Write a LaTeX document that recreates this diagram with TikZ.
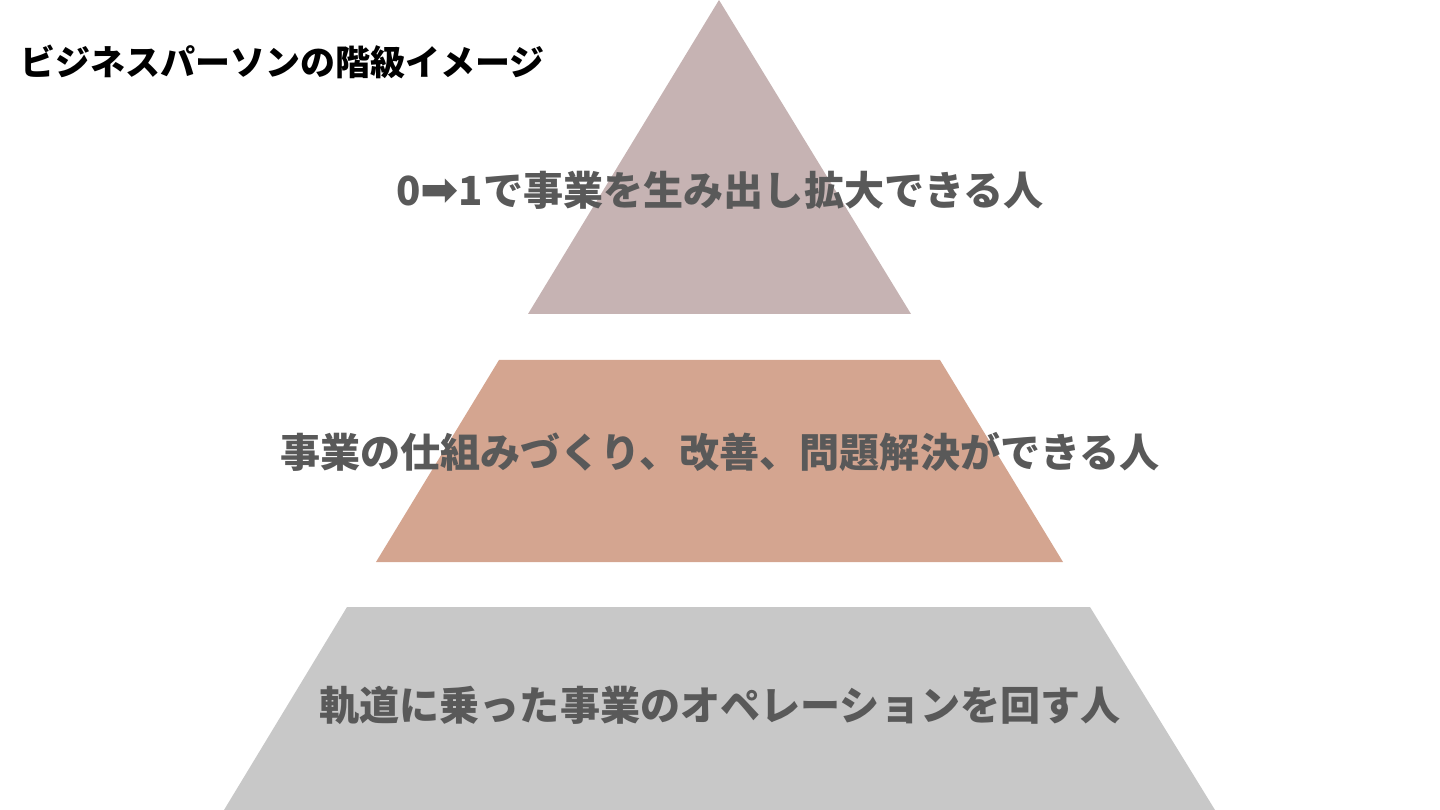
\documentclass[tikz,border=0pt]{standalone}
\usepackage{fontspec}
\newfontfamily\cjk{Noto Sans CJK JP}
\newfontfamily\sym{DejaVu Sans}
\definecolor{topc}{HTML}{C6B3B3}
\definecolor{midc}{HTML}{D4A590}
\definecolor{botc}{HTML}{C8C8C8}
\definecolor{txt}{HTML}{595959}
\begin{document}
\begin{tikzpicture}[x=0.01cm,y=-0.01cm,
  lvl/.style={font=\cjk\bfseries\fontsize{11.4pt}{13pt}\selectfont, text=txt, anchor=center, inner sep=0pt},
  ttl/.style={font=\cjk\bfseries\fontsize{9.95pt}{11pt}\selectfont, text=black, anchor=west, inner sep=0pt}]
\useasboundingbox (0,0) rectangle (1440,810);
\fill[topc] (719,0) -- (911,314) -- (528,314) -- cycle;
\fill[midc] (499,360) -- (940,360) -- (1063,562) -- (376,562) -- cycle;
\fill[botc] (347,607) -- (1090,607) -- (1215,810) -- (224,810) -- cycle;
\node[ttl] (title) at (20,62) {ビジネスパーソンの階級イメージ};
\node[lvl] (l1) at (720,190) {0{\sym\bfseries\fontsize{13pt}{13pt}\selectfont ➡}1で事業を生み出し拡大できる人};
\node[lvl] (l2) at (720,452) {事業の仕組みづくり、改善、問題解決ができる人};
\node[lvl] (l3) at (720,705) {軌道に乗った事業のオペレーションを回す人};
\end{tikzpicture}
\end{document}
